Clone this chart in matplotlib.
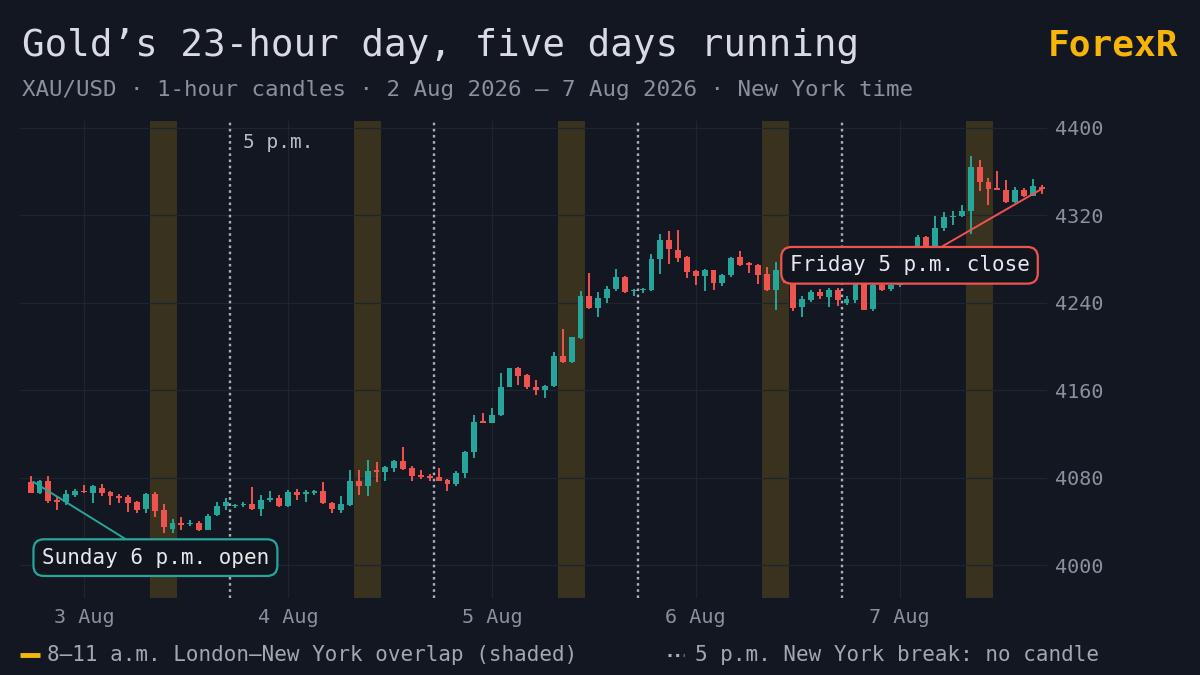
import numpy as np
import pandas as pd
import matplotlib
matplotlib.use("Agg")
import matplotlib.pyplot as plt
from matplotlib.lines import Line2D

# hourly XAU/USD candles, Sun 2 Aug 18:00 -> Fri 7 Aug 16:00 (New York), 17:00 hour missing each day
opens = [4076.2, 4066.2, 4077, 4059, 4058, 4064, 4067, 4066, 4071, 4067, 4063, 4062, 4058, 4051, 4065, 4050, 4033, 4039, 4037.5, 4039, 4032.6, 4046, 4054,
         4054, 4055, 4055.5, 4051, 4060, 4061, 4054, 4067, 4065, 4065.6, 4068, 4057, 4050.3, 4055, 4077, 4072.6, 4087, 4085.4, 4089, 4095.5, 4088.5, 4082.4, 4081.5,
         4080.9, 4077.8, 4074, 4084, 4103.7, 4131.8, 4130.3, 4137.3, 4163.2, 4180, 4173.9, 4163.3, 4160.2, 4164, 4191.3, 4185.5, 4208, 4246, 4235, 4244, 4252, 4263, 4250.2,
         4251.1, 4251.7, 4279.8, 4297.5, 4288.3, 4281.3, 4268.5, 4264, 4269.4, 4257.8, 4265.4, 4281.3, 4276, 4274, 4266, 4251.7, 4269.4, 4262, 4236, 4242.6, 4249.6, 4245, 4251.7,
         4239.5, 4242.6, 4258, 4234, 4256, 4252.3, 4256, 4268, 4285, 4299.6, 4292, 4308.2, 4318.2, 4318.8, 4323.4, 4364, 4350, 4344, 4343.3, 4331.7, 4342.6, 4337.7, 4345.4]
highs = [4081.5, 4078, 4081.5, 4063, 4069, 4070, 4073, 4073, 4074, 4068, 4065, 4064, 4059, 4066, 4067, 4055.5, 4042, 4044, 4041, 4040, 4047, 4058, 4061,
         4056, 4058, 4071.7, 4064, 4067.7, 4064, 4068.6, 4070, 4068.6, 4069, 4075.7, 4058, 4063, 4087, 4087, 4096, 4094.6, 4090.6, 4096, 4108.3, 4091, 4087, 4083,
         4089, 4078.7, 4086, 4104.3, 4137.3, 4138.8, 4143.4, 4175.4, 4180.6, 4181.5, 4175, 4169.3, 4165, 4194.4, 4215.7, 4209, 4250.2, 4267, 4249.3, 4254.8, 4270.6, 4264.5, 4252.3,
         4253.3, 4284.7, 4303, 4305, 4306.6, 4282.8, 4270, 4270.6, 4270, 4266.4, 4281.3, 4287.4, 4276.7, 4275.5, 4273, 4276.7, 4275, 4264, 4245.6, 4251.7, 4252.3, 4253.3, 4253.3,
         4245.6, 4262, 4260, 4258, 4260, 4260, 4272, 4290, 4302, 4301, 4318.8, 4322.5, 4323.4, 4329.5, 4374.4, 4370, 4354, 4360, 4352.4, 4345.4, 4344.8, 4353, 4347.8]
lows = [4065.6, 4065, 4057, 4050, 4055, 4062, 4066, 4057, 4063, 4055, 4057, 4049, 4048, 4048, 4044, 4029, 4029, 4032.6, 4036, 4031, 4032, 4045, 4050,
        4052, 4053, 4050.5, 4045, 4058, 4053, 4052.8, 4059.5, 4058, 4064, 4056, 4048, 4048, 4054, 4064, 4063, 4076, 4077, 4085.5, 4087, 4077, 4078.4, 4077.2,
        4076.5, 4067.7, 4072.6, 4080, 4098, 4129.7, 4130, 4136, 4162.6, 4164.8, 4161, 4155.6, 4152.6, 4163, 4185, 4185, 4206.6, 4234, 4227.3, 4239.5, 4251, 4248.7, 4245.6,
        4248.7, 4251, 4266.4, 4275.5, 4276.7, 4262.4, 4256.3, 4250.2, 4251.7, 4254.8, 4263.3, 4273.7, 4267, 4257.2, 4251, 4233.4, 4258, 4231.9, 4227.3, 4241, 4243.2, 4235.9, 4236.5,
        4238, 4240, 4232.8, 4232, 4250.2, 4251, 4254, 4266, 4283, 4288, 4290, 4305, 4311.2, 4318, 4303, 4341.7, 4329.5, 4342.6, 4331, 4331, 4336.5, 4337, 4339.6]
closes = [4066.2, 4076.9, 4059, 4058, 4065, 4068, 4066.5, 4072, 4065.6, 4063, 4061, 4057, 4050, 4065, 4049.5, 4034.5, 4039, 4037, 4039, 4032, 4045, 4054, 4058,
          4055, 4056, 4051, 4060, 4061.6, 4054, 4067, 4064, 4067, 4068, 4057, 4051, 4055.5, 4077, 4072.6, 4086, 4085, 4089.4, 4095.5, 4087.6, 4081.5, 4080.3, 4079.3,
          4077.2, 4074, 4084.5, 4103.7, 4131.2, 4130.3, 4137.3, 4163.2, 4180, 4173, 4162.6, 4160.2, 4164.2, 4191.3, 4185.5, 4208.4, 4246.2, 4235, 4244, 4252.3, 4263, 4249.3, 4251.7,
          4252.3, 4279.8, 4297.5, 4289, 4280.7, 4267.6, 4264.5, 4269.4, 4257.8, 4265.4, 4280.7, 4274.6, 4274, 4265.4, 4251.7, 4269.4, 4262, 4234.9, 4243.5, 4249.3, 4245.6, 4251.7, 4242.6,
          4243.5, 4258, 4233.4, 4256, 4251.7, 4256, 4268, 4285, 4300, 4292, 4308.2, 4318.2, 4319.4, 4324, 4364, 4350, 4344, 4343.3, 4331.7, 4343.3, 4337, 4346.3, 4343.9]

session_opens = ["2026-08-02 18:00", "2026-08-03 18:00", "2026-08-04 18:00", "2026-08-05 18:00", "2026-08-06 18:00"]
yticks = [4000, 4080, 4160, 4240, 4320, 4400]

# candle timestamps: 23 bars per session, no 17:00 bar
times = []
for s in session_opens:
    t0 = pd.Timestamp(s)
    times += [t0 + pd.Timedelta(hours=h) for h in range(23)]
times = pd.DatetimeIndex(times)
idx = np.arange(len(times))

BG = "#131722"
UP = "#26a69a"
DN = "#ef5350"
GOLD = "#f0b90b"
MONO = "DejaVu Sans Mono"
plt.rcParams["font.family"] = MONO

fig = plt.figure(figsize=(12, 6.75), dpi=100, facecolor=BG)
ax = fig.add_axes([20 / 1200, 77 / 675, 1027 / 1200, 477 / 675])
ax.set_facecolor(BG)

o = np.array(opens); h = np.array(highs); l = np.array(lows); c = np.array(closes)
col = np.where(c >= o, UP, DN)
body_lo = np.minimum(o, c)
body_h = np.maximum(np.abs(c - o), 1.3)
ax.vlines(idx, l, h, colors=col, lw=1.4, zorder=3)
ax.bar(idx, body_h, bottom=body_lo, width=0.66, color=col, lw=0, zorder=4)

# London-New York overlap shading (8-11 a.m.)
for i in idx[times.hour == 8]:
    ax.axvspan(i - 0.5, i + 2.5, color=GOLD, alpha=0.17, lw=0, zorder=1)

# 5 p.m. breaks
breaks = [i + 0.5 for i in idx[:-1] if times[i].hour == 16]
for b in breaks:
    ax.axvline(b, color="#a9aeb8", lw=1.7, linestyle=(0, (1.1, 1.5)), zorder=2)
ax.text(breaks[0] + 1.4, 4386, "5 p.m.", color="#b8bcc6", fontsize=14, va="center", ha="left")

ax.set_xlim(-1.2, 114.6)
ax.set_ylim(3970, 4406)
xt = idx[times.hour == 0]
ax.set_xticks(xt)
ax.set_xticklabels([f"{t.day} Aug" for t in times[xt]])
ax.set_yticks(yticks)
ax.yaxis.tick_right()
ax.tick_params(axis="both", length=0, colors="#8b909c", labelsize=14.5)
ax.tick_params(axis="y", pad=6)
ax.tick_params(axis="x", pad=7)
ax.grid(True, color="#1f2431", lw=0.9, zorder=0)
for sp in ax.spines.values():
    sp.set_visible(False)

# annotations
ax.annotate("Sunday 6 p.m. open", xy=(0.3, opens[0]), xytext=(14.07, 4006.9),
            ha="center", va="center", fontsize=15, color="#e8e9ec", zorder=6,
            bbox=dict(boxstyle="round,pad=0.4,rounding_size=0.5", fc="#11151e", ec=UP, lw=1.6),
            arrowprops=dict(arrowstyle="-", color=UP, lw=1.4, shrinkA=0, shrinkB=0))
ax.annotate("Friday 5 p.m. close", xy=(idx[-1], closes[-1]), xytext=(99.1, 4274.1),
            ha="center", va="center", fontsize=15, color="#e8e9ec", zorder=6,
            bbox=dict(boxstyle="round,pad=0.4,rounding_size=0.5", fc="#11151e", ec=DN, lw=1.6),
            arrowprops=dict(arrowstyle="-", color=DN, lw=1.4, shrinkA=0, shrinkB=0))

# titles
fig.text(22 / 1200, 1 - 46 / 675, "Gold\u2019s 23-hour day, five days running", color="#d8dbe1",
         fontsize=27, va="center", ha="left")
fig.text(22 / 1200, 1 - 90 / 675, "XAU/USD \u00b7 1-hour candles \u00b7 2 Aug 2026 \u2013 7 Aug 2026 \u00b7 New York time",
         color="#8b909c", fontsize=16.2, va="center", ha="left")
fig.text(1178 / 1200, 1 - 46 / 675, "ForexR", color="#f5b50a", fontsize=26, fontweight="bold",
         va="center", ha="right")

# legend row
fig.add_artist(Line2D([20 / 1200, 40 / 1200], [1 - 655 / 675] * 2, color=GOLD, lw=3.5,
                      transform=fig.transFigure, solid_capstyle="butt"))
fig.text(47 / 1200, 1 - 655 / 675, "8\u201311 a.m. London\u2013New York overlap (shaded)", color="#a3a7b1",
         fontsize=15, va="center", ha="left")
fig.add_artist(Line2D([668 / 1200, 684 / 1200], [1 - 655 / 675] * 2, color="#a9aeb8", lw=2.2,
                      linestyle=(0, (1, 1.5)), transform=fig.transFigure))
fig.text(695 / 1200, 1 - 655 / 675, "5 p.m. New York break: no candle", color="#a3a7b1",
         fontsize=15, va="center", ha="left")

fig.savefig("out.png", dpi=100, facecolor=BG)
